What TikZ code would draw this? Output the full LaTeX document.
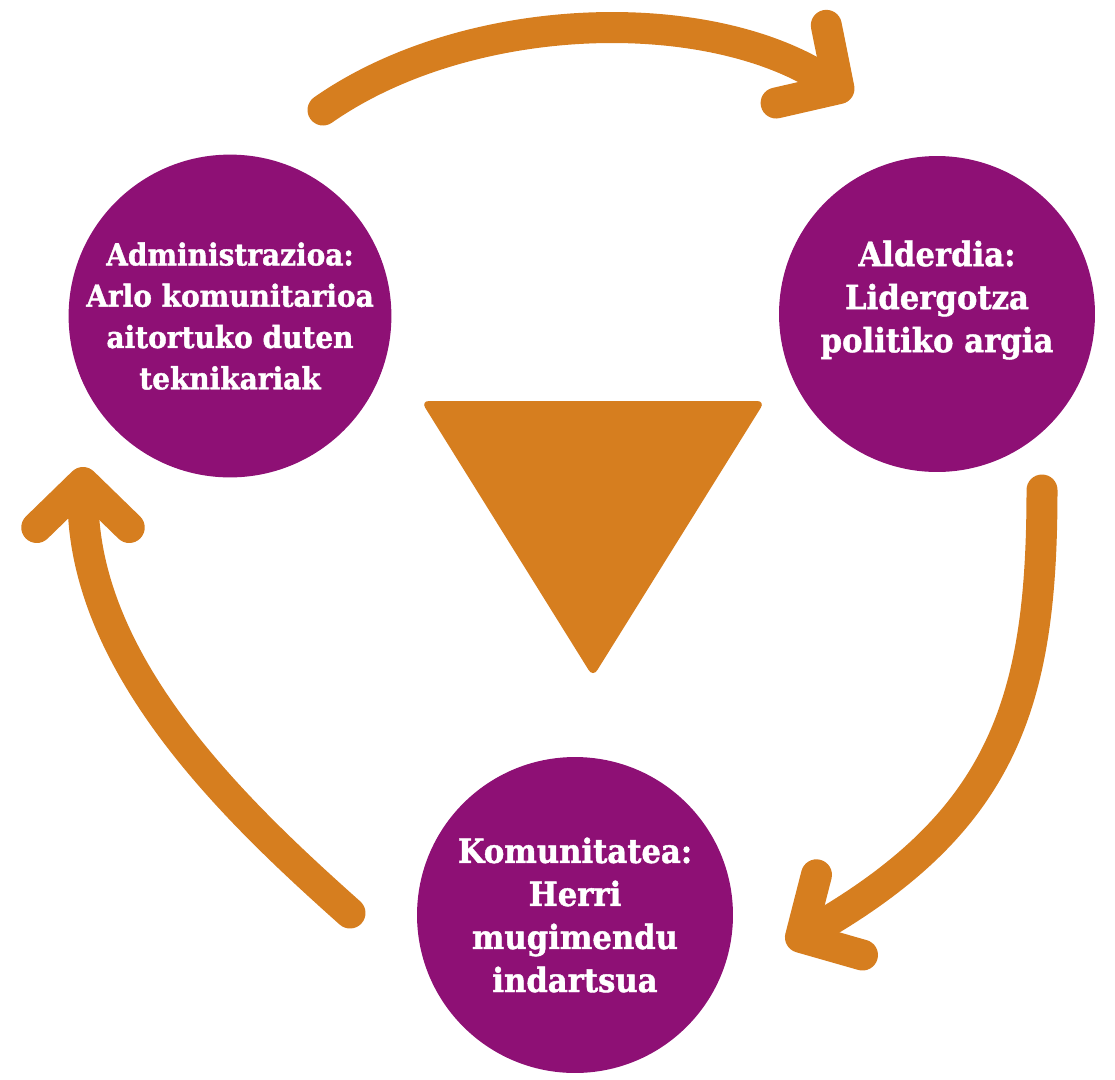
\documentclass[tikz,border=0pt]{standalone}
\usepackage{fontspec}
\usetikzlibrary{arrows.meta}
\newfontfamily\circlefont{DejaVu Serif}[UprightFont=* Bold, FakeStretch=0.92, FakeBold=1.3]
\definecolor{morea}{RGB}{142,16,117}
\definecolor{laranja}{RGB}{214,126,31}

\begin{document}
\begin{tikzpicture}
  [x=0.02cm,y=-0.02cm]
      \tikzstyle{circle_style} = [circle, fill=morea, minimum size=6.32cm, inner sep=0pt, text=white, align=center, font=\circlefont\fontsize{19}{24.5}\selectfont]
      \tikzstyle{arrow_style} = [draw=laranja, line width=0.62cm, line cap=round, -{Straight Barb[length=0.9cm,width=1.85cm,round]}]
  \useasboundingbox (0,0) rectangle (1115,1079);
  \node[circle_style, font=\circlefont\fontsize{17.3}{23.5}\selectfont] (n0) at (230,316) {Administrazioa:\\Arlo komunitarioa\\aitortuko duten\\teknikariak};
  \node[circle_style, text depth=20pt] (n1) at (937,314) {Alderdia:\\Lidergotza\\politiko argia};
  \node[circle_style] (n2) at (575,915) {Komunitatea:\\Herri\\mugimendu\\indartsua};
  \fill[laranja, rounded corners=0.16cm] (421,401) -- (765,401) -- (593,677) -- cycle;
  \coordinate (a0) at (323,110);
  \coordinate (a1) at (852,97);
  \coordinate (b0) at (1042,490);
  \coordinate (b1) at (787,945);
  \coordinate (c0) at (350,913);
  \coordinate (c1) at (83,467);
  \draw[arrow_style] (a0) .. controls (466,10) and (705,2) .. (a1);
  \draw[arrow_style] (b0) .. controls (1042,700) and (1005,820) .. (b1);
  \draw[arrow_style] (c0) .. controls (238,813) and (83,667) .. (c1);
\end{tikzpicture}
\end{document}
